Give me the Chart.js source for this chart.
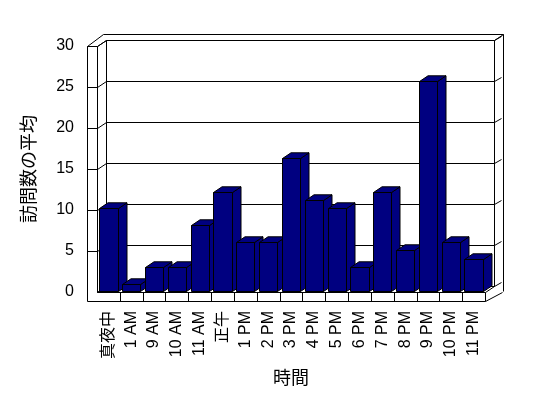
<!DOCTYPE html>
<html lang="ja">
<head>
<meta charset="utf-8">
<title>訪問数の平均</title>
<script src="https://cdn.jsdelivr.net/npm/chart.js@4.4.1/dist/chart.umd.min.js"></script>
<style>
  html, body { margin: 0; padding: 0; background: #ffffff; }
  #wrap { width: 548px; height: 398px; }
</style>
</head>
<body>
<div id="wrap"><canvas id="chart"></canvas></div>
<script>
/* =========================
   DATA
   ========================= */
const hours = ["真夜中", "1 AM", "9 AM", "10 AM", "11 AM", "正午", "1 PM", "2 PM", "3 PM",
  "4 PM", "5 PM", "6 PM", "7 PM", "8 PM", "9 PM", "10 PM", "11 PM"];
const avgVisits = [10.3, 1, 3, 3, 8.2, 12.2, 6.1, 6.1, 16.3, 11.2, 10.3, 3, 12.2, 5.1, 25.7, 6.1, 4];
const yMin = 0;
const yMax = 30;
const yStep = 5;
const yTitle = "訪問数の平均";
const xTitle = "時間";

/* =========================
   3D LOOK (excel style)
   ========================= */
const BAR_COLOR = "#000080";
const LINE_COLOR = "#000000";
const WALL = { dx: 9, dy: -6, side: 10, floor: 9 };
const BAR_DEPTH = { dx: 8.5, dy: -5.7 };
const FONT = "'Liberation Sans', 'Noto Sans CJK JP', sans-serif";
const CJK_FONT = "'Noto Sans CJK JP', sans-serif";

function px(v) {
  return Math.round(v) + 0.5;
}

function path(ctx, pts, close, fill) {
  ctx.beginPath();
  ctx.moveTo(pts[0][0], pts[0][1]);
  for (let i = 1; i < pts.length; i++) ctx.lineTo(pts[i][0], pts[i][1]);
  if (close) ctx.closePath();
  if (fill) {
    ctx.fillStyle = fill;
    ctx.fill();
  }
  ctx.stroke();
}

function drawFrame(chart) {
  const { ctx, chartArea: a, scales } = chart;
  const y = scales.y;
  const x = scales.x;
  const L = px(a.left), R = px(a.right), T = px(a.top), B = px(a.bottom);
  const dx = WALL.dx, dy = WALL.dy;
  const L0 = L - WALL.side;
  const B0 = B + WALL.floor;
  const R0 = R + 2 * dx;
  const T0 = T + 2 * dy;

  ctx.save();
  ctx.strokeStyle = LINE_COLOR;
  ctx.lineWidth = 1;

  // back wall
  path(ctx, [[L + dx, T + dy], [R + dx, T + dy], [R + dx, B + dy], [L + dx, B + dy]], true, "#ffffff");

  // grid lines: left stub, left wall, back wall, right wall
  y.ticks.forEach((t) => {
    const ty = px(y.getPixelForValue(t.value));
    if (t.value > yMin) path(ctx, [[L0, ty], [L, ty]]);
    path(ctx, [[L, ty], [L + dx, ty + dy], [R + dx, ty + dy], [R0 - 2, ty + dy - 4]]);
  });

  // left wall
  path(ctx, [[L, T], [L + dx, T + dy]]);
  path(ctx, [[L, B], [L + dx, B + dy]]);
  path(ctx, [[L, T], [L, B]]);
  path(ctx, [[L0, T], [L, T]]);

  // floor front with category dividers
  path(ctx, [[L, B], [R, B]]);
  path(ctx, [[R, B], [R, B0]]);
  for (let i = 1; i < hours.length; i++) {
    const bx = px(x.getPixelForValue(i - 0.5));
    path(ctx, [[bx, B], [bx, B0]]);
  }
  path(ctx, [[R, B], [R + dx, B + dy]]);

  // outer edge
  path(ctx, [[L0 + 16, T0], [L0, T], [L0, B0], [R, B0], [R0 - 1, B]]);
  path(ctx, [[L0 + 16, T0], [R0, T0], [R0, B - 1]]);
  path(ctx, [[R + dx, T + dy], [R0, T0]]);

  ctx.restore();
}

function drawBars(chart) {
  const { ctx } = chart;
  const meta = chart.getDatasetMeta(0);
  const bdx = BAR_DEPTH.dx, bdy = BAR_DEPTH.dy;

  ctx.save();
  ctx.strokeStyle = LINE_COLOR;
  ctx.lineWidth = 1;
  meta.data.forEach((bar) => {
    const x1 = px(bar.x - bar.width / 2);
    const x2 = px(bar.x + bar.width / 2);
    const top = px(bar.y);
    const base = px(bar.base) - 1;
    // side
    path(ctx, [[x2, top], [x2 + bdx, top + bdy], [x2 + bdx, base + bdy], [x2, base]], true, BAR_COLOR);
    // top
    path(ctx, [[x1, top], [x1 + bdx, top + bdy], [x2 + bdx, top + bdy], [x2, top]], true, BAR_COLOR);
    // front
    path(ctx, [[x1, top], [x2, top], [x2, base], [x1, base]], true, BAR_COLOR);
  });
  ctx.restore();
}

const box3d = {
  id: "box3d",
  beforeDatasetsDraw(chart) {
    drawFrame(chart);
  },
  afterDatasetsDraw(chart) {
    drawBars(chart);
  },
};

/* =========================
   CHART
   ========================= */
new Chart(document.getElementById("chart"), {
  type: "bar",
  data: {
    labels: hours,
    datasets: [
      {
        label: yTitle,
        data: avgVisits,
        backgroundColor: "rgba(0,0,0,0)",
        borderWidth: 0,
        barPercentage: 0.8,
        categoryPercentage: 1,
      },
    ],
  },
  options: {
    responsive: true,
    maintainAspectRatio: false,
    animation: false,
    layout: { padding: { left: 0, top: 46, right: 63, bottom: 0 } },
    plugins: {
      legend: { display: false },
      tooltip: { enabled: false },
    },
    scales: {
      x: {
        grid: { display: false, drawTicks: false },
        border: { display: false },
        ticks: {
          color: "#000",
          autoSkip: false,
          minRotation: 90,
          maxRotation: 90,
          padding: 19,
          font: { family: FONT, size: 16 },
        },
        title: {
          display: true,
          text: xTitle,
          color: "#000",
          font: { family: CJK_FONT, size: 18 },
          padding: { top: 0, bottom: 10 },
        },
        afterFit(scale) {
          scale.height = 106;
        },
      },
      y: {
        min: yMin,
        max: yMax,
        grid: { display: false, drawTicks: false },
        border: { display: false },
        ticks: {
          color: "#000",
          stepSize: yStep,
          padding: 23,
          font: { family: FONT, size: 16 },
        },
        title: {
          display: true,
          text: yTitle,
          color: "#000",
          font: { family: CJK_FONT, size: 18 },
          padding: { top: 17, bottom: 0 },
        },
        afterFit(scale) {
          scale.width = 97;
        },
      },
    },
  },
  plugins: [box3d],
});
</script>
</body>
</html>
